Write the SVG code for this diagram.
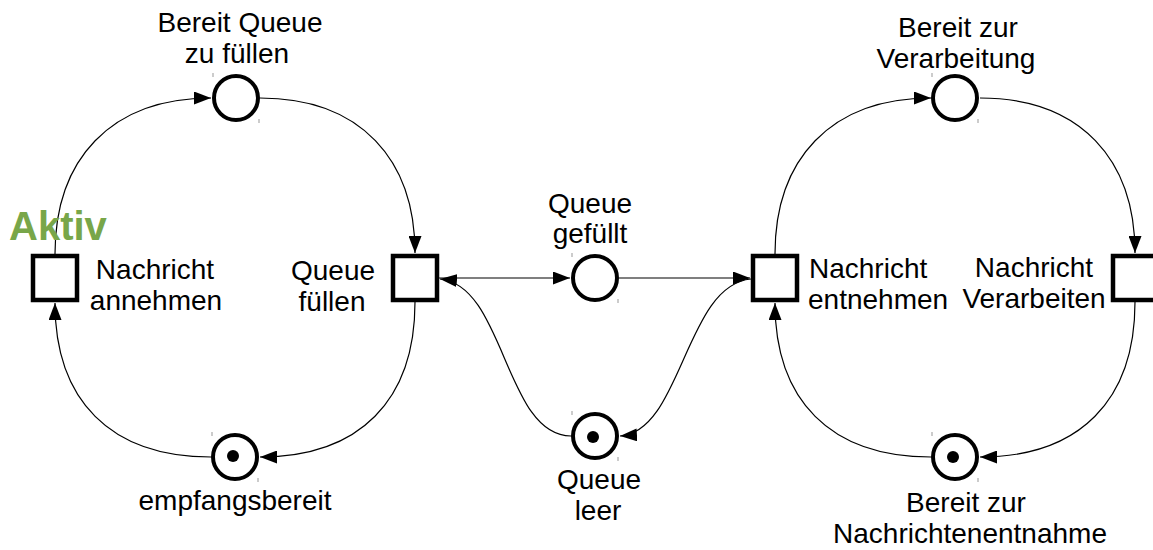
<svg xmlns="http://www.w3.org/2000/svg" width="1153" height="550" viewBox="0 0 1153 550">
<defs>
<style>
.place{fill:#fff;stroke:#000;stroke-width:4}
.trans{fill:#fff;stroke:#000;stroke-width:4.5}
.token{fill:#000}
.tick{stroke:#999;stroke-width:1}
.arc{fill:none;stroke:#000;stroke-width:1.2}
.lbl{font-family:"Liberation Sans",Arial,sans-serif;font-size:28px;fill:#000;text-anchor:middle}
.lblL{font-family:"Liberation Sans",Arial,sans-serif;font-size:28px;fill:#000;text-anchor:start}
.aktiv{font-family:"Liberation Sans",Arial,sans-serif;font-size:40px;font-weight:bold;fill:#78a649}
</style>
<marker id="arr" markerUnits="userSpaceOnUse" markerWidth="17" markerHeight="13" viewBox="0 0 17 13" refX="17" refY="6.5" orient="auto">
<path d="M0,0 L17,6.5 L0,13 z" fill="#000"/>
</marker>
</defs>
<rect width="1153" height="550" fill="#fff"/>

<g id="connectors">
<path class="arc" d="M55,254 C55,160 110,98 211,98" marker-end="url(#arr)"/>
<path class="arc" d="M260,98 C361,98 415,160 415,253" marker-end="url(#arr)"/>
<path class="arc" d="M415,302 C415,400 360,457 260,457" marker-end="url(#arr)"/>
<path class="arc" d="M211,457 C110,457 55,400 55,303" marker-end="url(#arr)"/>
<path class="arc" d="M439,278 L570,278" marker-end="url(#arr)"/>
<path class="arc" d="M571,436 C505,436 505,285 440,279" marker-end="url(#arr)"/>
<path class="arc" d="M619,278 L750,278" marker-end="url(#arr)"/>
<path class="arc" d="M751,279 C685,285 682,432 620,436" marker-end="url(#arr)"/>
<path class="arc" d="M775,254 C775,160 830,98 931,98" marker-end="url(#arr)"/>
<path class="arc" d="M980,98 C1081,98 1135,160 1135,253" marker-end="url(#arr)"/>
<path class="arc" d="M1135,302 C1135,400 1080,457 980,457" marker-end="url(#arr)"/>
<path class="arc" d="M931,457 C830,457 775,400 775,303" marker-end="url(#arr)"/>
</g>

<g id="p-bereit-queue">
<circle class="place" cx="236" cy="98" r="22"/>
<line class="tick" x1="213" y1="73" x2="213" y2="77"/><line class="tick" x1="259" y1="119" x2="259" y2="123"/>
<text class="lbl" x="240" y="32">Bereit Queue</text>
<text class="lbl" x="237" y="63">zu füllen</text>
</g>

<g id="t-annehmen">
<rect class="trans" x="33" y="256" width="44" height="44"/>
<text class="aktiv" x="9" y="240">Aktiv</text>
<text class="lbl" x="155" y="279">Nachricht</text>
<text class="lbl" x="156" y="310">annehmen</text>
</g>

<g id="p-empfangsbereit">
<circle class="place" cx="235" cy="457" r="22"/>
<circle class="token" cx="233" cy="456" r="6"/>
<line class="tick" x1="212" y1="432" x2="212" y2="436"/><line class="tick" x1="258" y1="478" x2="258" y2="482"/>
<text class="lbl" x="235" y="510">empfangsbereit</text>
</g>

<g id="t-queue-fuellen">
<rect class="trans" x="393" y="256" width="44" height="44"/>
<text class="lbl" x="333" y="280">Queue</text>
<text class="lbl" x="332" y="311">füllen</text>
</g>

<g id="p-queue-gefuellt">
<circle class="place" cx="595" cy="278" r="22"/>
<line class="tick" x1="572" y1="253" x2="572" y2="257"/><line class="tick" x1="618" y1="299" x2="618" y2="303"/>
<text class="lbl" x="590" y="213">Queue</text>
<text class="lbl" x="590" y="243">gefüllt</text>
</g>

<g id="p-queue-leer">
<circle class="place" cx="595" cy="436" r="22"/>
<circle class="token" cx="593" cy="437" r="6"/>
<line class="tick" x1="572" y1="411" x2="572" y2="415"/><line class="tick" x1="618" y1="457" x2="618" y2="461"/>
<text class="lbl" x="599" y="489">Queue</text>
<text class="lbl" x="598" y="520">leer</text>
</g>

<g id="t-entnehmen">
<rect class="trans" x="753" y="256" width="44" height="44"/>
<text class="lblL" x="809" y="278">Nachricht</text>
<text class="lblL" x="808" y="309">entnehmen</text>
</g>

<g id="p-bereit-verarbeitung">
<circle class="place" cx="955" cy="98" r="22"/>
<line class="tick" x1="932" y1="73" x2="932" y2="77"/><line class="tick" x1="978" y1="119" x2="978" y2="123"/>
<text class="lbl" x="958" y="37">Bereit zur</text>
<text class="lbl" x="956" y="68">Verarbeitung</text>
</g>

<g id="t-verarbeiten">
<rect class="trans" x="1113" y="256" width="44" height="44"/>
<text class="lbl" x="1034" y="277">Nachricht</text>
<text class="lbl" x="1034" y="308">Verarbeiten</text>
</g>

<g id="p-bereit-entnahme">
<circle class="place" cx="955" cy="457" r="22"/>
<circle class="token" cx="953" cy="457" r="6"/>
<line class="tick" x1="932" y1="432" x2="932" y2="436"/><line class="tick" x1="978" y1="478" x2="978" y2="482"/>
<text class="lbl" x="966" y="512">Bereit zur</text>
<text class="lbl" x="970" y="543">Nachrichtenentnahme</text>
</g>
</svg>
